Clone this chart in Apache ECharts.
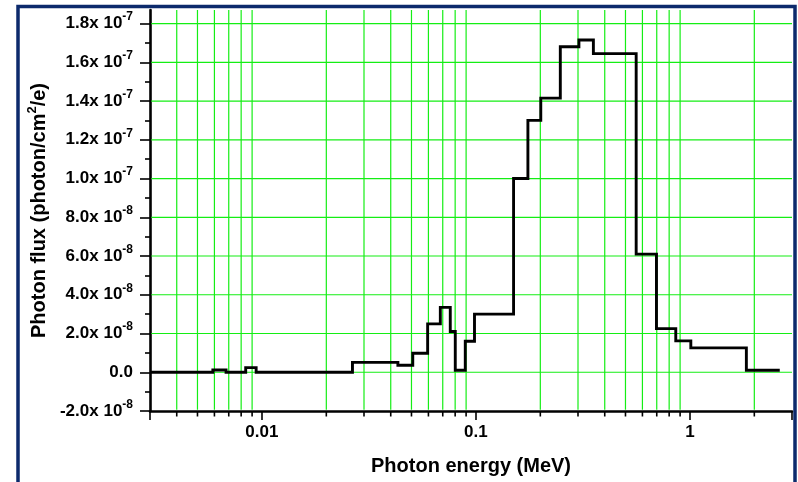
<!DOCTYPE html>
<html>
<head>
<meta charset="utf-8">
<script src="https://cdn.jsdelivr.net/npm/echarts@6/dist/echarts.min.js"></script>
<style>
  html, body { margin: 0; padding: 0; background: #fff; }
  #chart { width: 798px; height: 482px; }
</style>
</head>
<body>
<div id="chart"></div>
<script>
// Bin edges of the photon energy histogram (MeV)
const energyEdges = [0.003, 0.0059, 0.0068, 0.0084, 0.0094, 0.0265, 0.0432, 0.0507, 0.0595, 0.0682,
  0.0759, 0.0801, 0.0892, 0.0985, 0.15, 0.175, 0.201, 0.248, 0.303, 0.354,
  0.561, 0.698, 0.859, 1.01, 1.836, 2.63];
// Photon flux in each bin (photon/cm^2/e)
const fluxValues = [0, 1.2e-9, 0, 2.4e-9, 0, 5.1e-9, 3.6e-9, 9.8e-9, 2.5e-8, 3.35e-8,
  2.1e-8, 1.0e-9, 1.6e-8, 3.0e-8, 1.0e-7, 1.30e-7, 1.415e-7, 1.68e-7, 1.715e-7, 1.645e-7,
  6.1e-8, 2.25e-8, 1.62e-8, 1.26e-8, 1.0e-9];
// Y-axis tick values (major and minor)
const yMajorTicks = [-2e-8, 0, 2e-8, 4e-8, 6e-8, 8e-8, 1.0e-7, 1.2e-7, 1.4e-7, 1.6e-7, 1.8e-7];
const yMinorTicks = [-1e-8, 1e-8, 3e-8, 5e-8, 7e-8, 9e-8, 1.1e-7, 1.3e-7, 1.5e-7, 1.7e-7];
// X-axis minor ticks (log decades), each carrying a vertical grid line
const xMinorTicks = [0.004, 0.005, 0.006, 0.007, 0.008, 0.009,
  0.02, 0.03, 0.04, 0.05, 0.06, 0.07, 0.08, 0.09,
  0.2, 0.3, 0.4, 0.5, 0.6, 0.7, 0.8, 0.9, 2];

const X_MIN = 0.003, X_MAX = 3;
const Y_MIN = -2e-8, Y_MAX = 1.87e-7;
const GRID_GREEN = '#14ee14';
const FONT = 'Liberation Sans, Arial, sans-serif';

// Step line points: each bin value held from its left edge to the next edge
const stepPoints = fluxValues.map((v, i) => [energyEdges[i], v]);
stepPoints.push([energyEdges[energyEdges.length - 1], fluxValues[fluxValues.length - 1]]);

function yLabel(v) {
  if (Math.abs(v) < 1e-12) return '{m|0.0}';
  const exp = Math.floor(Math.log10(Math.abs(v)) + 1e-6);
  const mant = (v / Math.pow(10, exp)).toFixed(1);
  return '{m|' + mant + 'x 10}{s|' + exp + '}';
}
function xLabel(v) {
  const e = Math.round(Math.log10(v));
  if (Math.abs(Math.log10(v) - e) > 1e-6) return '';
  return e >= 0 ? String(Math.pow(10, e)) : Math.pow(10, e).toFixed(-e);
}

const chart = echarts.init(document.getElementById('chart'), null, { renderer: 'canvas' });
chart.setOption({
  backgroundColor: '#fff',
  animation: false,
  grid: { left: 150, right: 6, top: 10, bottom: 71, containLabel: false },
  graphic: [{
    type: 'rect',
    shape: { x: 18, y: 6.5, width: 777, height: 500 },
    style: { fill: 'none', stroke: '#0c2a6c', lineWidth: 3.5 },
    z: 100
  }],
  xAxis: {
    type: 'log', logBase: 10, min: X_MIN, max: X_MAX,
    name: 'Photon energy (MeV)', nameLocation: 'middle', nameGap: 45,
    nameTextStyle: { fontFamily: FONT, fontWeight: 'bold', fontSize: 20, color: '#000' },
    axisLine: { show: true, onZero: false, lineStyle: { color: '#000', width: 2.6 } },
    axisTick: { show: true, length: 9, lineStyle: { color: '#000', width: 1.6 } },
    minorTick: { show: false },
    splitLine: { show: false },
    axisLabel: {
      margin: 13, formatter: xLabel, showMinLabel: true, showMaxLabel: true,
      fontFamily: FONT, fontWeight: 'bold', fontSize: 17, color: '#000'
    }
  },
  yAxis: [{
    type: 'value', min: Y_MIN, max: Y_MAX, interval: 2e-8,
    name: '{a|Photon flux (photon/cm}{s|2}{a|/e)}', nameLocation: 'middle', nameGap: 94,
    nameTextStyle: {
      color: '#000',
      rich: {
        a: { fontFamily: FONT, fontWeight: 'bold', fontSize: 20, color: '#000' },
        s: { fontFamily: FONT, fontWeight: 'bold', fontSize: 13, color: '#000', padding: [0, 0, 14, 0] }
      }
    },
    axisLine: { show: true, onZero: false, lineStyle: { color: '#000', width: 2.6 } },
    axisTick: { show: true, length: 10, customValues: yMajorTicks, lineStyle: { color: '#000', width: 1.6 } },
    axisLabel: {
      customValues: yMajorTicks, margin: 17, formatter: yLabel,
      rich: {
        m: { fontFamily: FONT, fontWeight: 'bold', fontSize: 17, color: '#000' },
        s: { fontFamily: FONT, fontWeight: 'bold', fontSize: 12, color: '#000', padding: [0, 0, 13, 0] }
      }
    },
    splitLine: { show: false }
  }, {
    type: 'value', min: Y_MIN, max: Y_MAX, interval: 2e-8, position: 'left',
    axisLine: { show: false },
    axisTick: { show: true, length: 5, customValues: yMinorTicks, lineStyle: { color: '#000', width: 1.6 } },
    axisLabel: { show: false },
    splitLine: { show: false }
  }],
  series: [{
    // horizontal grid lines at the major y ticks above the x axis
    type: 'custom',
    xAxisIndex: 0, yAxisIndex: 0,
    clip: false, silent: true, z: 1,
    data: yMajorTicks.filter(v => v > Y_MIN).map(v => [X_MIN, v]),
    renderItem: function (params, api) {
      const v = api.value(1);
      const a = api.coord([X_MIN, v]);
      const b = api.coord([X_MAX, v]);
      return {
        type: 'rect',
        shape: { x: a[0] + 1.3, y: a[1] - 0.6, width: b[0] - a[0] - 1.3, height: 1.2 },
        style: { fill: GRID_GREEN, stroke: null }
      };
    }
  }, {
    // vertical grid lines and minor ticks at the log sub-divisions
    type: 'custom',
    xAxisIndex: 0, yAxisIndex: 0,
    clip: false, silent: true, z: 1,
    data: xMinorTicks.map(v => [v, Y_MIN]),
    renderItem: function (params, api) {
      const v = api.value(0);
      const top = api.coord([v, Y_MAX]);
      const bot = api.coord([v, Y_MIN]);
      return {
        type: 'group',
        children: [{
          type: 'rect',
          shape: { x: bot[0] - 0.6, y: top[1], width: 1.2, height: bot[1] - top[1] - 1.3 },
          style: { fill: GRID_GREEN, stroke: null }
        }, {
          type: 'rect',
          shape: { x: bot[0] - 0.8, y: bot[1], width: 1.6, height: 5.5 },
          style: { fill: '#000', stroke: null }
        }]
      };
    }
  }, {
    type: 'line',
    xAxisIndex: 0, yAxisIndex: 0,
    data: stepPoints,
    step: 'end',
    symbol: 'none',
    z: 3,
    lineStyle: { color: '#000', width: 2.9, join: 'miter' }
  }]
});
</script>
</body>
</html>
